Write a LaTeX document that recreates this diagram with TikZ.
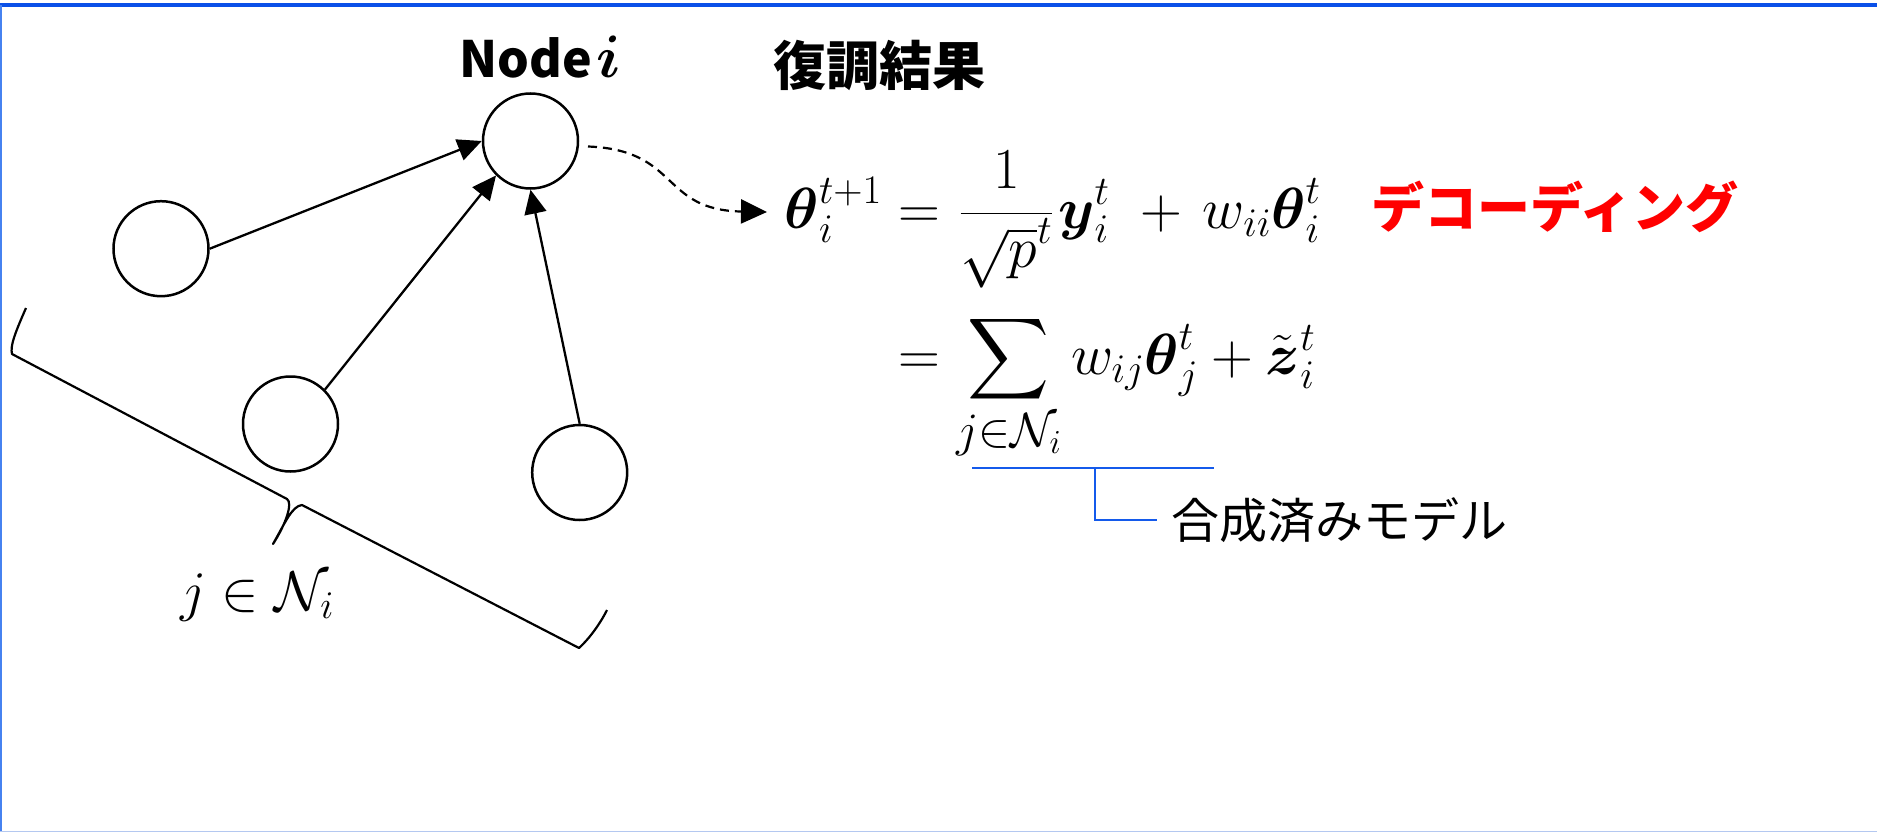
\RequirePackage{fix-cm}
\documentclass[tikz,border=0pt]{standalone}
\usepackage{amsmath}
\usepackage{graphicx}
\usepackage{fontspec}
\newfontfamily\jp{Noto Sans CJK JP}
\usetikzlibrary{arrows.meta}
\definecolor{topblue}{RGB}{10,80,232}
\definecolor{sideblue}{RGB}{70,130,240}
\definecolor{botblue}{RGB}{180,200,240}
\definecolor{brblue}{RGB}{20,90,235}
\definecolor{decred}{RGB}{255,0,0}
\newcommand{\mysum}{\mathop{\vcenter{\hbox{\resizebox{82pt}{!}{$\displaystyle\sum$}}}}\limits}
\begin{document}
\begin{tikzpicture}[x=1pt,y=-1pt,
  nd/.style={circle,draw,line width=2.5pt,minimum size=95pt,inner sep=0pt},
  edgearrow/.style={line width=2.3pt,-{Triangle[length=24pt,width=22pt]}},
  lbl/.style={inner sep=0pt,anchor=base west},
  mathtxt/.style={lbl,font=\fontsize{58}{70}\selectfont},
]
\useasboundingbox (0,0) rectangle (1877,832);
% frame
\fill[white] (0,0) rectangle (1877,832);
\draw[topblue,line width=4pt] (0,5) -- (1877,5);
\draw[sideblue,line width=1.5pt] (0.75,5) -- (0.75,832);
\draw[botblue,line width=1.5pt] (0,831.25) -- (1877,831.25);

% nodes
\node[nd] (i) at (530.5,141) {};
\node[nd] (a) at (161,248.7) {};
\node[nd] (b) at (290.5,424) {};
\node[nd] (c) at (579.7,472.5) {};

\node[lbl,font=\jp\bfseries\fontsize{50}{60}\selectfont] (title) at (459,78) {Node\hspace{5pt}{\fontsize{60}{60}\selectfont$\boldsymbol{i}$}};

\draw[edgearrow] (a.east) -- (i.west);
\draw[edgearrow] (b.north east) -- (i.south west);
\draw[edgearrow] (c.north) -- (i.south);

% heading
\node[lbl,font=\jp\bfseries\fontsize{53}{64}\selectfont] (head) at (773.5,86) {復調結果};

% equations
\node[mathtxt,anchor=base east] (th) at (882,228) {$\boldsymbol{\theta}_i^{t+1}$};
\node[mathtxt] (r1) at (882,228) {$\displaystyle {}= \mkern1mu\frac{1}{\sqrt{p}^{t}}\mkern1.5mu\boldsymbol{y}_i^t\mkern5.5mu + \mkern2.5mu w_{ii}\boldsymbol{\theta}_i^t$};
\node[mathtxt] (r2) at (882,374) {$\displaystyle {}= \mysum_{\text{\fontsize{48}{58}\selectfont\rule{0pt}{37pt}$j{\in}\mathcal{N}_i$}} w_{ij}\boldsymbol{\theta}_j^t + \tilde{\boldsymbol{z}}_i^t$};

\node[lbl,font=\jp\bfseries\fontsize{53}{64}\selectfont,text=decred] (dec) at (1371,227) {デコーディング};

% dashed connector
\coordinate (ds) at (588,146.5);
\coordinate (de) at (767,212);
\draw[line width=2.2pt,dash pattern=on 9pt off 6pt,-{Triangle[length=26pt,width=24pt]}]
  (ds) .. controls (680,150) and (660,210) .. (de);

% blue bracket
\coordinate (bl) at (972,467.7);
\coordinate (br) at (1213.5,467.7);
\coordinate (bm) at (1094.6,467.7);
\coordinate (bt) at (1157,520);
\draw[brblue,line width=2.2pt] (bl) -- (br);
\draw[brblue,line width=2.2pt] (bm) |- (bt);
\node[lbl,font=\jp\fontsize{48}{58}\selectfont] (model) at (1171.5,538) {合成済みモデル};

% curly brace
\draw[line width=2.2pt,line join=round]
  (26,308) .. controls (15,333) and (10,346) .. (12,354)
  -- (287,499) .. controls (293,503) and (286,524) .. (273,544)
  .. controls (285,523) and (292,506) .. (302,505)
  -- (579,648) .. controls (589,639) and (600,624) .. (607,610);
\node[lbl,font=\fontsize{56}{66}\selectfont] (nb) at (180,610) {$j\in\mathcal{N}_i$};
\end{tikzpicture}
\end{document}
